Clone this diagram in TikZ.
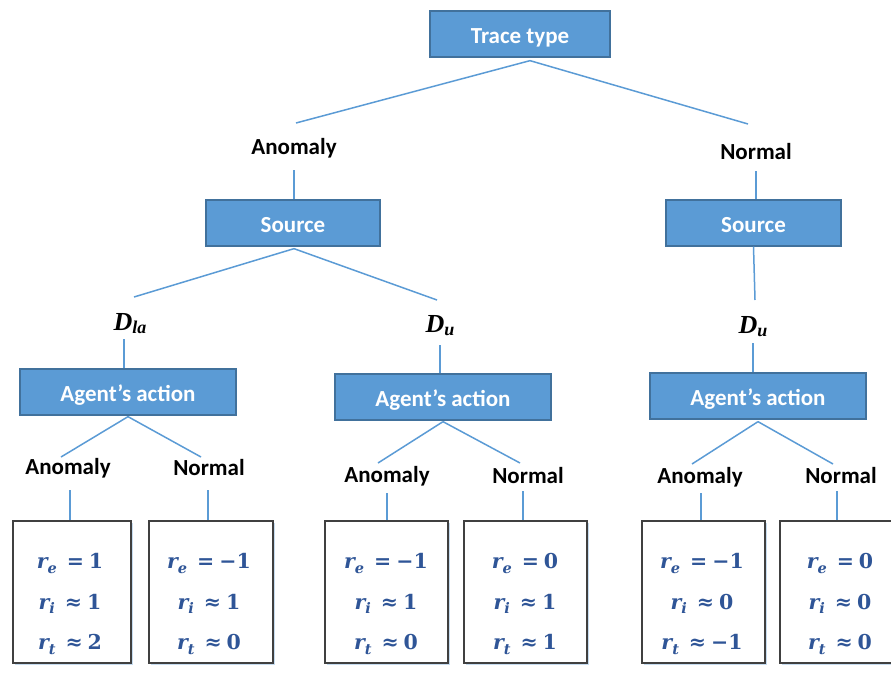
\documentclass[tikz,border=0pt]{standalone}
\usepackage{fontspec}
\setmainfont{Carlito}
\newfontfamily\mfont{Liberation Serif}
\newfontfamily\vfont{DejaVu Serif}
\usetikzlibrary{calc,shadows}
\definecolor{boxblue}{HTML}{5B9BD5}
\definecolor{boxedge}{HTML}{41719C}
\definecolor{eqblue}{HTML}{2F5597}
\newcommand{\rv}[1]{{\itshape r}\raisebox{-0.4ex}{\fontsize{14.5}{14.5}\selectfont\itshape #1}\hspace{10pt}}
\newcommand{\rl}[1]{#1\hspace{5pt}}
\newcommand{\dv}[1]{{\mfont\bfseries\itshape D\raisebox{-0.3ex}{\fontsize{18}{18}\selectfont #1}}}
\tikzset{
  conn/.style={draw=boxblue, line width=1.5pt},
  bbox/.style={fill=boxblue, draw=boxedge, line width=1.3pt, text=white,
    font=\bfseries\fontsize{23}{28}\selectfont, minimum height=46, inner sep=0,
    text height=20, text depth=2},
  lbl/.style={font=\bfseries\fontsize{23}{28}\selectfont, inner sep=0, anchor=base},
  dlbl/.style={font=\fontsize{26}{30}\selectfont, inner sep=0, anchor=base},
  obox/.style={draw=black!75, line width=1.2pt, fill=white, minimum height=142,
    inner sep=0, drop shadow={shadow xshift=2pt, shadow yshift=-2pt, fill=boxblue, opacity=0.35}},
  vals/.style={font=\vfont\bfseries\fontsize{20.5}{40.5}\selectfont, text=eqblue, align=center, inner sep=0}
}
\begin{document}
\begin{tikzpicture}[x=1pt,y=-1pt]
\useasboundingbox (0,0) rectangle (891,675);
\clip (0,0) rectangle (891,675);
% boxes
\node[bbox, minimum width=180] (tt) at (520,34) {Trace type};
\node[bbox, minimum width=174] (src1) at (293,223) {Source};
\node[bbox, minimum width=175] (src2) at (753.5,223) {Source};
\node[bbox, minimum width=216] (ag1) at (128,392) {Agent’s action};
\node[bbox, minimum width=216] (ag2) at (443,397) {Agent’s action};
\node[bbox, minimum width=216] (ag3) at (758,396) {Agent’s action};
% labels
\node[lbl] (an1) at (294,154) {Anomaly};
\node[lbl] (no1) at (756,159) {Normal};
\node[dlbl] (dla) at (130,330) {\dv{la}};
\node[dlbl] (du1) at (440,332) {\dv{u}};
\node[dlbl] (du2) at (753,333) {\dv{u}};
\node[lbl] (la1) at (68,474) {Anomaly};
\node[lbl] (ln1) at (209,475) {Normal};
\node[lbl] (la2) at (387,482) {Anomaly};
\node[lbl] (ln2) at (528,483) {Normal};
\node[lbl] (la3) at (700,483) {Anomaly};
\node[lbl] (ln3) at (841,483) {Normal};
% result boxes
\node[obox, minimum width=118] (b1) at (72,592) {};
\node[obox, minimum width=124] (b2) at (211,592) {};
\node[obox, minimum width=123] (b3) at (386.5,592) {};
\node[obox, minimum width=123] (b4) at (525.5,592) {};
\node[obox, minimum width=123] (b5) at (703.5,592) {};
\node[obox, minimum width=124] (b6) at (842,592) {};
\node[vals] (v1) at (70,604) {\rv{e}\rl{=}1\\ \rv{i}\rl{≈}1\\ \rv{t}\rl{≈}2};
\node[vals] (v2) at (209,604) {\rv{e}\rl{=}−1\\ \rv{i}\rl{≈}1\\ \rv{t}\rl{≈}0};
\node[vals] (v3) at (386,604) {\rv{e}\rl{=}−1\\ \rv{i}\rl{≈}1\\ \rv{t}\rl{≈}0};
\node[vals] (v4) at (525,604) {\rv{e}\rl{=}0\\ \rv{i}\rl{≈}1\\ \rv{t}\rl{≈}1};
\node[vals] (v5) at (702,604) {\rv{e}\rl{=}−1\\ \rv{i}\rl{≈}0\\ \rv{t}\rl{≈}−1};
\node[vals] (v6) at (840,604) {\rv{e}\rl{=}0\\ \rv{i}\rl{≈}0\\ \rv{t}\rl{≈}0};
% connectors
\draw[conn] ($(tt.south)+(10,3)$) -- ($(an1.base)+(2,-31)$);
\draw[conn] ($(tt.south)+(10,3)$) -- ($(no1.base)+(-8,-35)$);
\draw[conn] ($(an1.base)+(0,16)$) -- ($(src1.north)+(1,0)$);
\draw[conn] ($(no1.base)+(0,12)$) -- ($(src2.north)+(2.5,0)$);
\draw[conn] ($(src1.south)+(1,2)$) -- ($(dla.base)+(4,-33)$);
\draw[conn] ($(src1.south)+(1,2)$) -- ($(du1.base)+(-3,-32)$);
\draw[conn] (src2.south) -- ($(du2.base)+(2,-33)$);
\draw[conn] ($(dla.base)+(-6,9)$) -- ($(ag1.north)+(-4,0)$);
\draw[conn] ($(du1.base)+(0,13)$) -- ($(ag2.north)+(-3,0)$);
\draw[conn] ($(du2.base)+(0,10)$) -- ($(ag3.north)+(-5,0)$);
\draw[conn] ($(ag1.south)+(0,1)$) -- ($(la1.base)+(-7,-17)$);
\draw[conn] ($(ag1.south)+(0,1)$) -- ($(ln1.base)+(-8,-18)$);
\draw[conn] ($(ag2.south)+(0,1)$) -- ($(la2.base)+(-9,-19)$);
\draw[conn] ($(ag2.south)+(0,1)$) -- ($(ln2.base)+(-8,-20)$);
\draw[conn] ($(ag3.south)+(0,2)$) -- ($(la3.base)+(-8,-19)$);
\draw[conn] ($(ag3.south)+(0,2)$) -- ($(ln3.base)+(-8,-19)$);
\draw[conn] ($(la1.base)+(2,16)$) -- ($(b1.north)+(-2,0)$);
\draw[conn] ($(ln1.base)+(-1,15)$) -- ($(b2.north)+(-3,0)$);
\draw[conn] ($(la2.base)+(0,11)$) -- ($(b3.north)+(0.5,0)$);
\draw[conn] ($(ln2.base)+(-5,8)$) -- ($(b4.north)+(-2.5,0)$);
\draw[conn] ($(la3.base)+(1,10)$) -- ($(b5.north)+(-2.5,0)$);
\draw[conn] ($(ln3.base)+(-4,8)$) -- ($(b6.north)+(-5,0)$);
\end{tikzpicture}
\end{document}
